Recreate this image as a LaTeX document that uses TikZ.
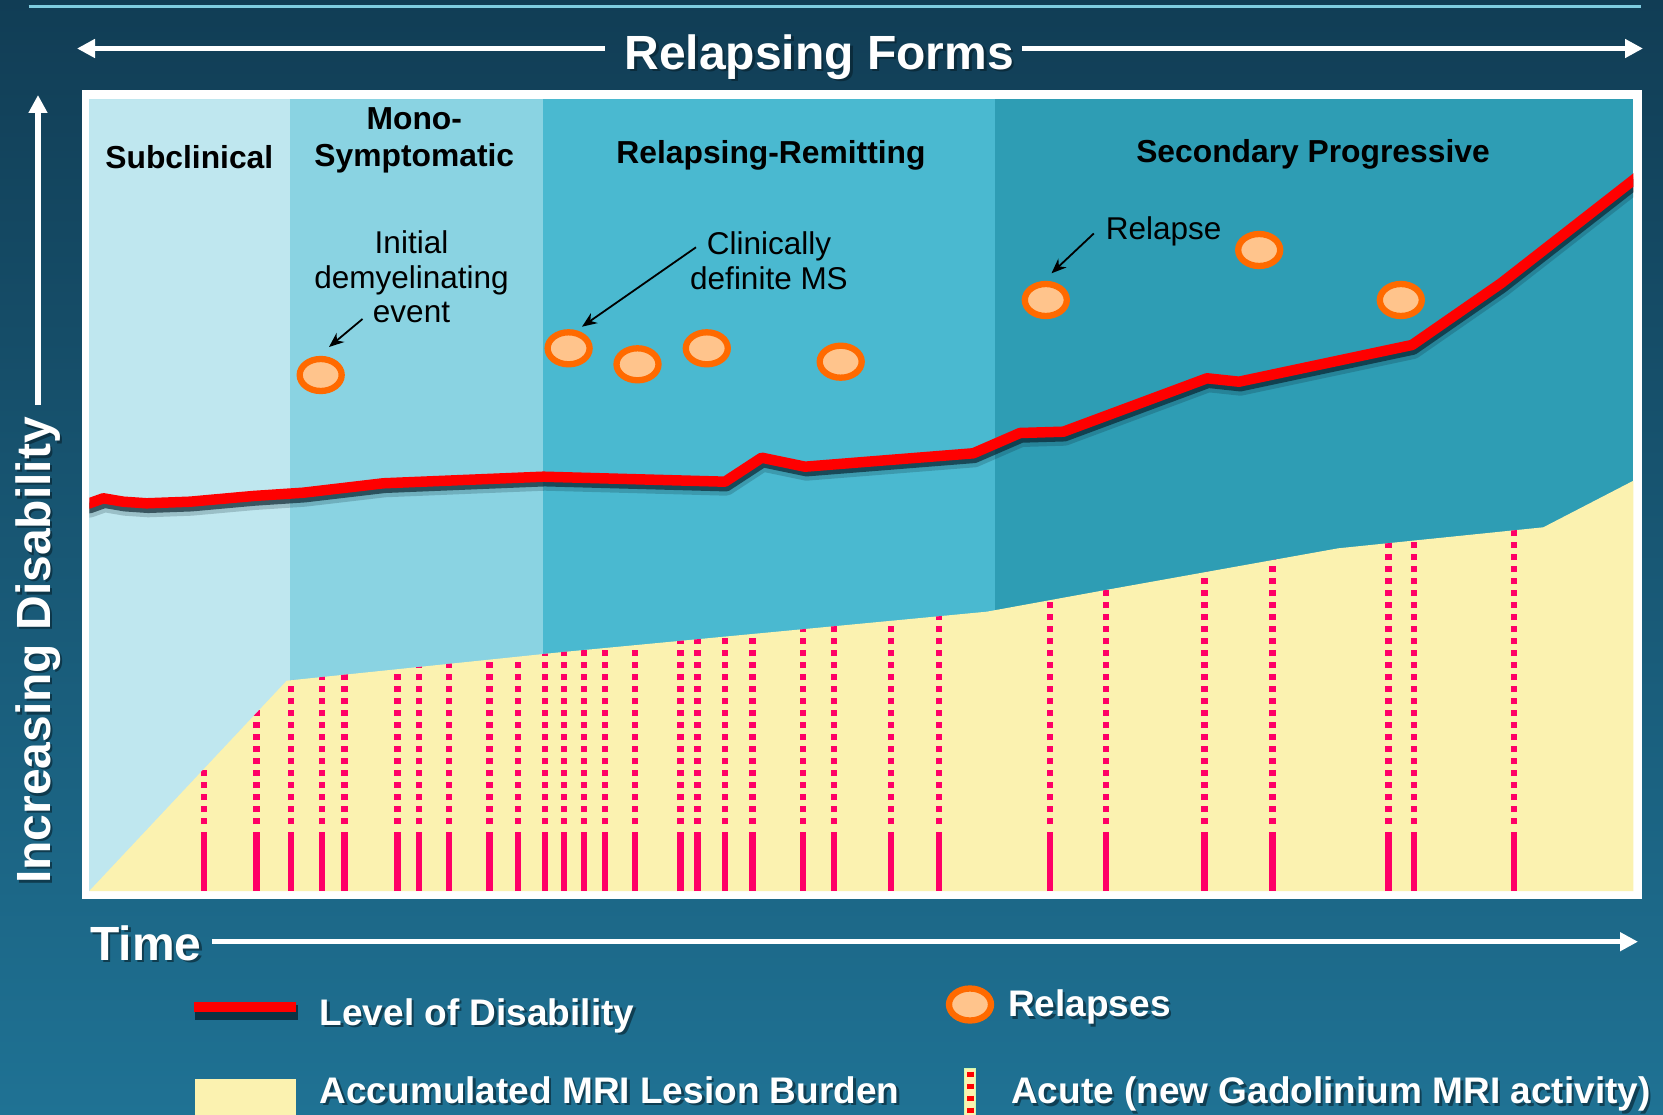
\documentclass[tikz,border=0pt]{standalone}
\usepackage{fontspec}
\setmainfont{Liberation Sans}
\usetikzlibrary{arrows.meta,shapes.geometric}
\definecolor{bgtop}{HTML}{113D55}
\definecolor{bgmid}{HTML}{165069}
\definecolor{bgbot}{HTML}{1F7294}
\definecolor{topline}{HTML}{7FCCE0}
\definecolor{cSub}{HTML}{BFE7EF}
\definecolor{cMono}{HTML}{8AD3E2}
\definecolor{cRR}{HTML}{4AB9D0}
\definecolor{cSP}{HTML}{2E9DB4}
\definecolor{cYel}{HTML}{FBF2B0}
\definecolor{cPink}{HTML}{FF0066}
\definecolor{cRed}{HTML}{FF0000}
\definecolor{relF}{HTML}{FFC48C}
\definecolor{relO}{HTML}{FF6A00}
\definecolor{shad}{HTML}{071F2A}
\newcommand\fBig{\bfseries\fontsize{48}{56}\selectfont}
\newcommand\fLeg{\bfseries\fontsize{37}{44}\selectfont}
\newcommand\fLab{\bfseries\fontsize{31.8}{38}\selectfont}
\newcommand\fAnn{\fontsize{31.5}{38}\selectfont}
\newcommand\mkshtext[4]{%
  \node[txtshadow,#3] (#1s) at ([shift={(2.5,2.5)}]#2) {#4};
  \node[txtwhite,#3] (#1) at (#2) {#4};}
\begin{document}
\begin{tikzpicture}[x=1pt,y=-1pt,
  txtwhite/.style={text=white,inner sep=0pt},
  txtshadow/.style={text=shad,text opacity=0.6,inner sep=0pt},
  blab/.style={text=black,font=\fLab,inner sep=0pt,anchor=base},
  ann/.style={text=black,font=\fAnn,inner sep=0pt,anchor=base},
  relapse/.style={ellipse,draw=relO,fill=relF,line width=6.3pt,minimum width=42pt,minimum height=32pt,inner sep=0pt},
  warrow/.style={draw=white,line width=5.5pt,-{Triangle[length=18pt,width=18pt]}},
  karrow/.style={draw=black,line width=1.8pt,-{Stealth[length=15pt,width=12pt]}},
  dline/.style={draw=cPink,line width=6.3pt,dash pattern=on 6pt off 6pt},
  sline/.style={draw=cPink,line width=6.3pt}]
\useasboundingbox (0,0) rectangle (1663,1115);
% background
\fill[top color=bgtop,middle color=bgmid,bottom color=bgbot] (0,0) rectangle (1663,1115);
% top line
\coordinate (tl1) at (28.6,6.3);
\coordinate (tl2) at (1641,6.3);
\draw[topline,line width=2.5pt] (tl1) -- (tl2);
% chart frame and bands
\fill[white] (81.5,90) rectangle (1642,899);
\fill[cSub] (89.3,99) rectangle (290,891);
\fill[cMono] (290,99) rectangle (543.3,891);
\fill[cRR] (543.3,99) rectangle (995,891);
\fill[cSP] (995,99) rectangle (1633.4,891);
% lesion burden
\fill[cYel] (89.3,891) -- (286.7,680.7) -- (560,652.3) -- (986.7,611.7) -- (1105.7,590) -- (1338.3,548.3) -- (1543.3,527.3) -- (1633.4,480.7) -- (1633.4,891) -- cycle;
\begin{scope}
\clip (89.3,891) -- (286.7,680.7) -- (560,652.3) -- (986.7,611.7) -- (1105.7,590) -- (1338.3,548.3) -- (1543.3,527.3) -- (1633.4,480.7) -- (1633.4,891) -- cycle;
\foreach \x in {204,256.5,291,322,344.5,397.5,419.3,448.7,489.5,518,545,563.7,584.3,605,635,680.5,697.5,724.7,752.5,803.3,834,891.3,939,1049.9,1105.7,1204.5,1272.5,1388.5,1414,1514}{
  \draw[dline] (\x,824) -- (\x,440);
  \draw[sline] (\x,832.3) -- (\x,891);
}
\end{scope}
% level of disability
\begin{scope}
\clip (89.3,99) rectangle (1633.4,891);
\foreach \dx/\dy/\lw/\col/\op in {1.5/6/16pt/shad/0.2, 1.5/4.5/10.5pt/shad/0.65, 0/0/10.5pt/cRed/1}{
\draw[shift={(\dx,\dy)},line width=\lw,draw=\col,draw opacity=\op,line join=round]
 (80,505) -- (89.3,503.3) -- (103.3,498.3) -- (123.3,501.7) -- (146.7,503.3) -- (190,501.7) -- (253.3,496) -- (303.3,492.7) -- (383.3,483.3) -- (543.3,476.7) -- (725,481.7) -- (761.7,457.7) -- (805,466.7) -- (973.3,453.3) -- (1020,433) -- (1063.4,431.7) -- (1207,378.3) -- (1239,381.7) -- (1412,345) -- (1501,283.3) -- (1633.4,180) -- (1645,170.6);
}
\end{scope}
% relapses
\node[relapse] (r1) at (320.7,375) {};
\node[relapse] (r2) at (568.6,348.3) {};
\node[relapse] (r3) at (637.5,364.3) {};
\node[relapse] (r4) at (706.8,348.3) {};
\node[relapse] (r5) at (840.7,361.7) {};
\node[relapse] (r6) at (1045.8,300) {};
\node[relapse] (r7) at (1259.2,250) {};
\node[relapse] (r8) at (1400.8,300) {};
% band labels
\node[blab] (sub) at (189.3,168.3) {Subclinical};
\node[blab] (mono1) at (414.3,130) {Mono-};
\node[blab] (mono2) at (414.3,167) {Symptomatic};
\node[blab] (rr) at (771,163.3) {Relapsing-Remitting};
\node[blab] (sp) at (1313,162.7) {Secondary Progressive};
% annotations
\node[ann] (init1) at (411.5,254) {Initial};
\node[ann] (init2) at (411.5,288.5) {demyelinating};
\node[ann] (init3) at (411.5,323) {event};
\node[ann] (clin1) at (769,255) {Clinically};
\node[ann] (clin2) at (769,289.3) {definite MS};
\node[ann,anchor=base west] (rel) at (1105.7,240) {Relapse};
\coordinate (a1s) at (362.5,319);
\coordinate (a1e) at (329,347);
\coordinate (a2s) at (696,247.3);
\coordinate (a2e) at (582,326.7);
\coordinate (a3s) at (1093.8,233.5);
\coordinate (a3e) at (1051.5,273.3);
\draw[karrow] (a1s) -- (a1e);
\draw[karrow] (a2s) -- (a2e);
\draw[karrow] (a3s) -- (a3e);
% Relapsing Forms
\mkshtext{rf}{819.3,69.3}{anchor=base,font=\fBig}{Relapsing Forms}
\coordinate (rfL) at (605,48.5);
\coordinate (rfLtip) at (77,48.5);
\coordinate (rfR) at (1022,48.5);
\coordinate (rfRtip) at (1643,48.5);
\draw[warrow] (rfL) -- (rfLtip);
\draw[warrow] (rfR) -- (rfRtip);
% y axis
\mkshtext{yax}{50,884}{anchor=base west,rotate=90,font=\fBig}{Increasing Disability}
\coordinate (yaxB) at (38,405);
\coordinate (yaxT) at (38,95);
\draw[warrow] (yaxB) -- (yaxT);
% time axis
\mkshtext{time}{90,960}{anchor=base west,font=\fBig}{Time}
\coordinate (tmA) at (212,941.7);
\coordinate (tmB) at (1638,941.7);
\draw[warrow] (tmA) -- (tmB);
% legend
\fill[shad,opacity=0.75] (195,1005) rectangle (297.5,1020);
\fill[cRed] (194,1001.7) rectangle (296,1011.7);
\mkshtext{lod}{319.5,1025}{anchor=base west,font=\fLeg}{Level of Disability}
\node[relapse] (rleg) at (970,1004.5) {};
\mkshtext{rls}{1008,1016.7}{anchor=base west,font=\fLeg}{Relapses}
\fill[cYel] (195,1079) rectangle (296.4,1120);
\mkshtext{mri}{319.5,1103}{anchor=base west,font=\fLeg}{Accumulated MRI Lesion Burden}
\filldraw[fill=cYel,draw=cYel!70!green!60!white,line width=1pt] (964.7,1068.3) rectangle (975.4,1120);
\draw[cRed,line width=6.5pt,dash pattern=on 5.6pt off 6.4pt] (970.3,1071.7) -- (970.3,1120);
\mkshtext{acu}{1011,1103.5}{anchor=base west,font=\fLeg}{Acute (new Gadolinium MRI activity)}
\end{tikzpicture}
\end{document}
